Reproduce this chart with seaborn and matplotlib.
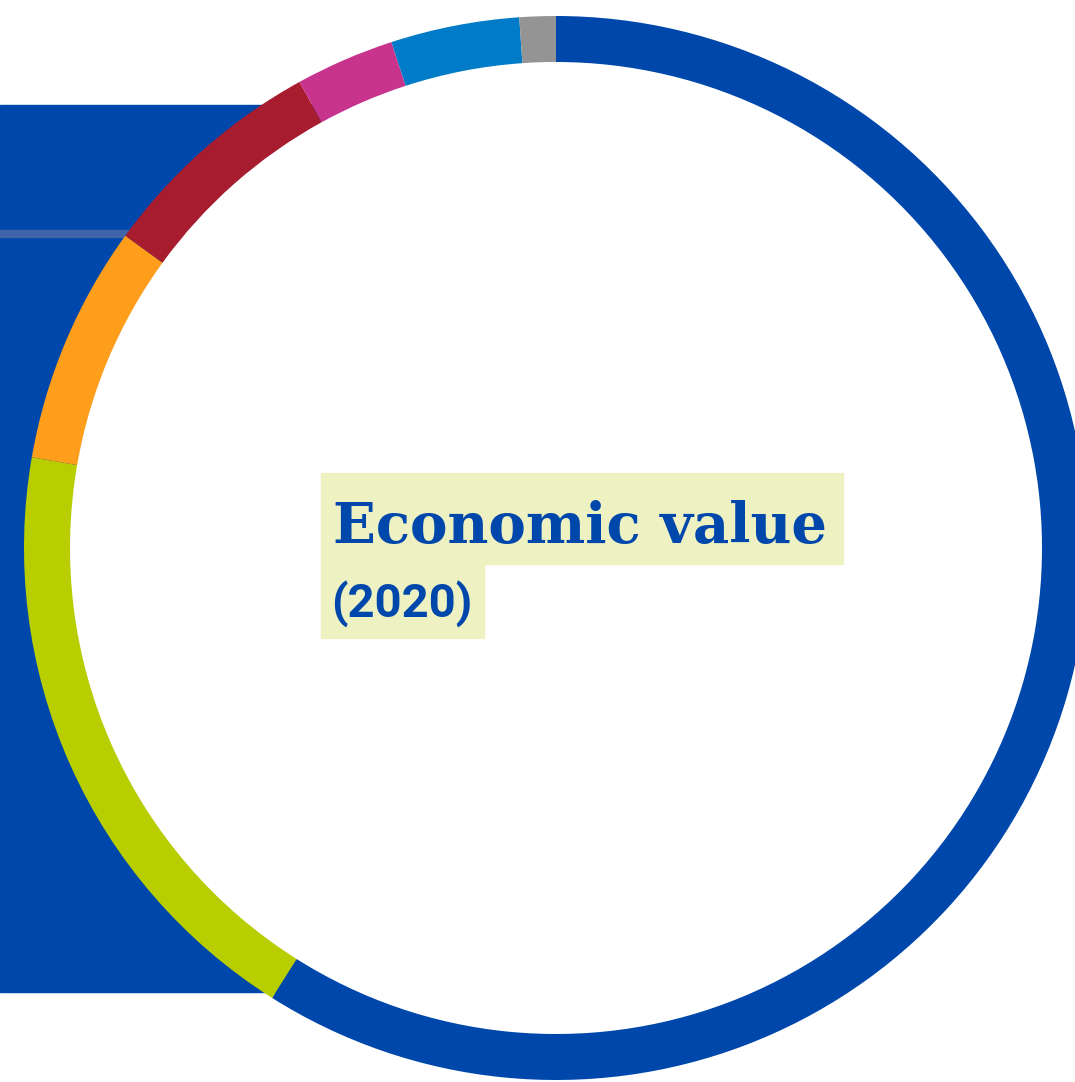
import matplotlib
matplotlib.use("Agg")
import matplotlib.pyplot as plt
import matplotlib.patches as mpatches
import seaborn as sns

# share of economic value per sector, clockwise from 12 o'clock
sectors = ["Sector A", "Sector B", "Sector C", "Sector D", "Sector E", "Sector F", "Other"]
shares = [58.9, 18.75, 7.25, 7.0, 3.0, 3.9, 1.1]
colors = ["#0047AB", "#B9CE00", "#FF9E1B", "#A71C2E", "#C8338D", "#007BC7", "#949494"]

title = "Economic value"
subtitle = "(2020)"

W, H = 1075, 1082
CX, CY = 556, H - 548
R_OUT = 532
RING = 46

sns.set_theme(style="white")
plt.rcParams["font.family"] = ["Roboto", "DejaVu Sans"]

fig = plt.figure(figsize=(W / 100, H / 100), dpi=100)
ax = fig.add_axes([0, 0, 1, 1])

# blue panel behind the ring on the left
ax.add_patch(mpatches.Rectangle((0, H - 992), 400, 992 - 105, color="#0047AB", zorder=0))
ax.add_patch(mpatches.Rectangle((0, H - 237), 140, 7, color="#3F64A8", zorder=1))

wedges, _ = ax.pie(
    shares,
    colors=colors,
    startangle=90,
    counterclock=False,
    radius=R_OUT,
    center=(CX, CY),
    wedgeprops=dict(width=RING, linewidth=0),
)
for w in wedges:
    w.set_zorder(2)
ax.add_patch(mpatches.Circle((CX, CY), R_OUT - RING, color="white", zorder=1.5))

# label boxes
ax.add_patch(mpatches.Rectangle((321, H - 564), 522, 91, color="#EEF2C3", zorder=3))
ax.add_patch(mpatches.Rectangle((321, H - 638), 163, 74, color="#EEF2C3", zorder=3))
ax.text(333, H - 543, title, fontsize=40.5, fontweight="bold", family="DejaVu Serif",
        color="#0047AB", ha="left", va="baseline", zorder=4)
ax.text(331, H - 617, subtitle, fontsize=34, fontweight="bold", family=["Roboto", "DejaVu Sans"],
        color="#0047AB", ha="left", va="baseline", zorder=4)

ax.set_xlim(0, W)
ax.set_ylim(0, H)
ax.set_aspect("auto")
ax.axis("off")

fig.savefig("out.png", dpi=100)
